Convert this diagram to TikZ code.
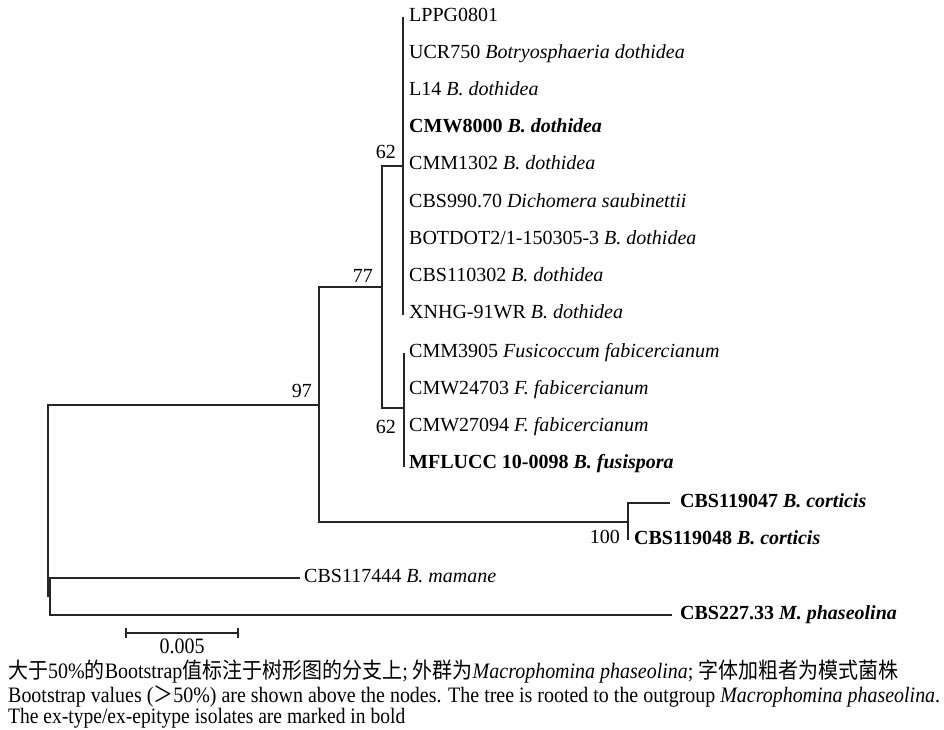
\documentclass[tikz,border=0pt]{standalone}
\usepackage{fontspec}
\usepackage{graphicx}
\setmainfont{Liberation Serif}
\newfontfamily\cjk{Noto Sans CJK SC}
\begin{document}
\begin{tikzpicture}[x=1pt,y=-1pt,
  tree/.style={line width=1.2pt, draw=black!85},
  leaf/.style={anchor=base west, inner sep=0pt, font=\fontsize{20}{24}\selectfont},
  bs/.style={anchor=base east, inner sep=0pt, font=\fontsize{20}{24}\selectfont},
  capline/.style={anchor=base west, inner sep=0pt}]
\useasboundingbox (0,0) rectangle (944,730);
% internal nodes
\coordinate (A) at (403,166);
\coordinate (B) at (404,408);
\coordinate (N77) at (382,287);
\coordinate (N97) at (319,405);
\coordinate (NC) at (628,522);
\coordinate (NM) at (50,596);
\coordinate (R) at (48,500);
% tips
\coordinate (t1) at (403,17);
\coordinate (t9) at (403,315);
\coordinate (t10) at (404,353);
\coordinate (t13) at (404,467);
\coordinate (t14) at (670,503);
\coordinate (t15) at (628,540);
\coordinate (t16) at (300,578);
\coordinate (t17) at (672,615);
% branches
\draw[tree] (t1) -- (t9);
\draw[tree] (t10) -- (t13);
\draw[tree] (N77) |- (A);
\draw[tree] (N77) |- (B);
\draw[tree] (N97) |- (N77);
\draw[tree] (N97) |- (NC);
\draw[tree] (NC) |- (t14);
\draw[tree] (NC) |- (t15);
\draw[tree] (R) |- (N97);
\draw[tree] (R) |- (NM);
\draw[tree] (NM) |- (t16);
\draw[tree] (NM) |- (t17);
% leaves
\node[leaf] (L1) at (409,22) {LPPG0801};
\node[leaf] (L2) at (409,59) {UCR750 \textit{Botryosphaeria dothidea}};
\node[leaf] (L3) at (409,96) {L14 \textit{B. dothidea}};
\node[leaf] (L4) at (409,133) {\textbf{CMW8000 \textit{B. dothidea}}};
\node[leaf] (L5) at (409,170) {CMM1302 \textit{B. dothidea}};
\node[leaf] (L6) at (409,207) {CBS990.70 \textit{Dichomera saubinettii}};
\node[leaf] (L7) at (409,244) {BOTDOT2/1-150305-3 \textit{B. dothidea}};
\node[leaf] (L8) at (409,281) {CBS110302 \textit{B. dothidea}};
\node[leaf] (L9) at (409,318) {XNHG-91WR \textit{B. dothidea}};
\node[leaf] (L10) at (409,357) {CMM3905 \textit{Fusicoccum fabicercianum}};
\node[leaf] (L11) at (409,394) {CMW24703 \textit{F. fabicercianum}};
\node[leaf] (L12) at (409,431) {CMW27094 \textit{F. fabicercianum}};
\node[leaf] (L13) at (409,468) {\textbf{MFLUCC 10-0098 \textit{B. fusispora}}};
\node[leaf] (L14) at (680,507) {\textbf{CBS119047 \textit{B. corticis}}};
\node[leaf] (L15) at (634,544) {\textbf{CBS119048 \textit{B. corticis}}};
\node[leaf] (L16) at (304,582) {CBS117444 \textit{B. mamane}};
\node[leaf] (L17) at (680,619) {\textbf{CBS227.33 \textit{M. phaseolina}}};
% bootstrap values
\node[bs] (b62a) at (396,159) {62};
\node[bs] (b77) at (373,282) {77};
\node[bs] (b97) at (312,397) {97};
\node[bs] (b62b) at (396,433) {62};
\node[bs] (b100) at (620,543) {100};
% scale bar
\coordinate (s1) at (126,633);
\coordinate (s2) at (238,633);
\draw[tree] (s1) -- (s2);
\draw[tree] ([yshift=-5pt]s1) -- ([yshift=5pt]s1);
\draw[tree] ([yshift=-5pt]s2) -- ([yshift=5pt]s2);
\node[anchor=base, inner sep=0pt] (sl) at (182,653) {\resizebox{45pt}{\height}{\fontsize{22}{26}\selectfont 0.005}};
% caption
\node[capline] (c1) at (8,678) {\resizebox{890pt}{\height}{\fontsize{22}{26}\selectfont{\cjk 大于}50\%{\cjk 的}Bootstrap{\cjk 值标注于树形图的分支上}; {\cjk 外群为}\textit{Macrophomina phaseolina}; {\cjk 字体加粗者为模式菌株}}};
\node[capline] (c2) at (8,702) {\resizebox{932pt}{\height}{\fontsize{22}{26}\selectfont Bootstrap values ({\cjk ＞}50\%) are shown above the nodes. The tree is rooted to the outgroup \textit{Macrophomina phaseolina}.}};
\node[capline] (c3) at (8,723) {\resizebox{397pt}{\height}{\fontsize{22}{26}\selectfont The ex-type/ex-epitype isolates are marked in bold}};
\end{tikzpicture}
\end{document}
